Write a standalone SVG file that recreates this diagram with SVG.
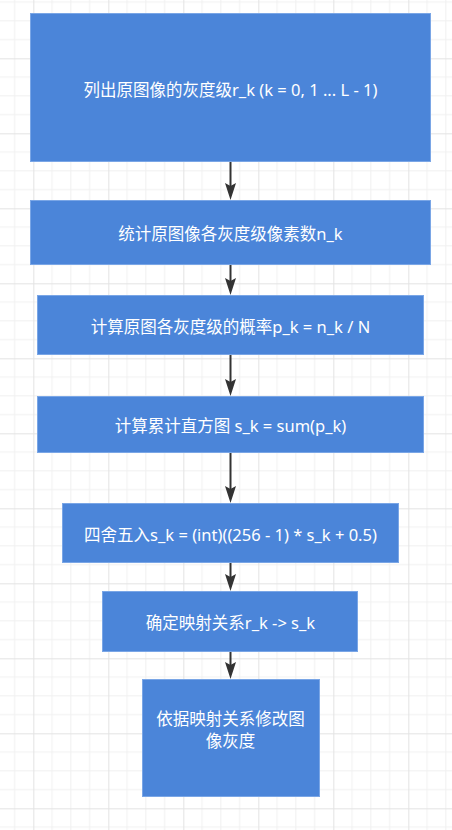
<svg xmlns="http://www.w3.org/2000/svg" width="452" height="830" viewBox="0 0 452 830">
  <style>
    .box { fill: #4b85d9; stroke: #7aa6e6; stroke-width: 1; }
    .label { fill: #ffffff; font-family: "Noto Sans", "Noto Sans CJK SC", sans-serif; font-size: 16.5px; text-anchor: middle; dominant-baseline: central; }
    .edge { stroke: #333333; stroke-width: 2; fill: none; marker-end: url(#arrow); }
    .minor { stroke: #f0f0f0; stroke-width: 1; }
    .major { stroke: #e3e3e3; stroke-width: 1; }
  </style>
  <defs>
    <!-- background grid: minor every 18.75, major every 75 -->
    <pattern id="grid" patternUnits="userSpaceOnUse" x="33.33" y="58.33" width="75" height="75">
      <path class="minor" d="M18.75,0V75M37.5,0V75M56.25,0V75M0,18.75H75M0,37.5H75M0,56.25H75"/>
      <path class="major" d="M0.5,0V75M0,0.5H75"/>
    </pattern>
    <marker id="arrow" viewBox="0 0 17 11" refX="3" refY="5.5" markerWidth="17" markerHeight="11" markerUnits="userSpaceOnUse" orient="auto">
      <path d="M0,0 L17,5.5 L0,11 L3,5.5 Z" fill="#333333"/>
    </marker>
  </defs>

  <rect x="0" y="0" width="452" height="830" fill="#ffffff"/>
  <rect x="0" y="0" width="452" height="830" fill="url(#grid)"/>

  <g id="connectors">
    <path class="edge" d="M230.5,162 V186"/>
    <path class="edge" d="M230.5,265 V281"/>
    <path class="edge" d="M230.5,355 V382"/>
    <path class="edge" d="M230.5,453 V489"/>
    <path class="edge" d="M230.5,563 V577"/>
    <path class="edge" d="M230.5,652 V665"/>
  </g>

  <g id="list-levels">
    <rect class="box" x="30.5" y="13.5" width="400" height="148"/>
    <text class="label" x="230.5" y="89">列出原图像的灰度级r_k (k = 0, 1 ... L - 1)</text>
  </g>

  <g id="count-pixels">
    <rect class="box" x="30.5" y="200.5" width="400" height="64"/>
    <text class="label" x="230.5" y="233">统计原图像各灰度级像素数n_k</text>
  </g>

  <g id="probability">
    <rect class="box" x="37.5" y="295.5" width="386" height="59"/>
    <text class="label" x="230.5" y="326">计算原图各灰度级的概率p_k = n_k / N</text>
  </g>

  <g id="cumulative">
    <rect class="box" x="37.5" y="396.5" width="386" height="56"/>
    <text class="label" x="230.5" y="425">计算累计直方图 s_k = sum(p_k)</text>
  </g>

  <g id="rounding">
    <rect class="box" x="62.5" y="503.5" width="336" height="59"/>
    <text class="label" x="230.5" y="534">四舍五入s_k = (int)((256 - 1) * s_k + 0.5)</text>
  </g>

  <g id="mapping">
    <rect class="box" x="102.5" y="591.5" width="255" height="60"/>
    <text class="label" x="230.5" y="622">确定映射关系r_k -&gt; s_k</text>
  </g>

  <g id="apply-mapping">
    <rect class="box" x="142.5" y="679.5" width="177" height="117"/>
    <text class="label" x="230.5" y="718">依据映射关系修改图</text>
    <text class="label" x="230.5" y="740">像灰度</text>
  </g>
</svg>
